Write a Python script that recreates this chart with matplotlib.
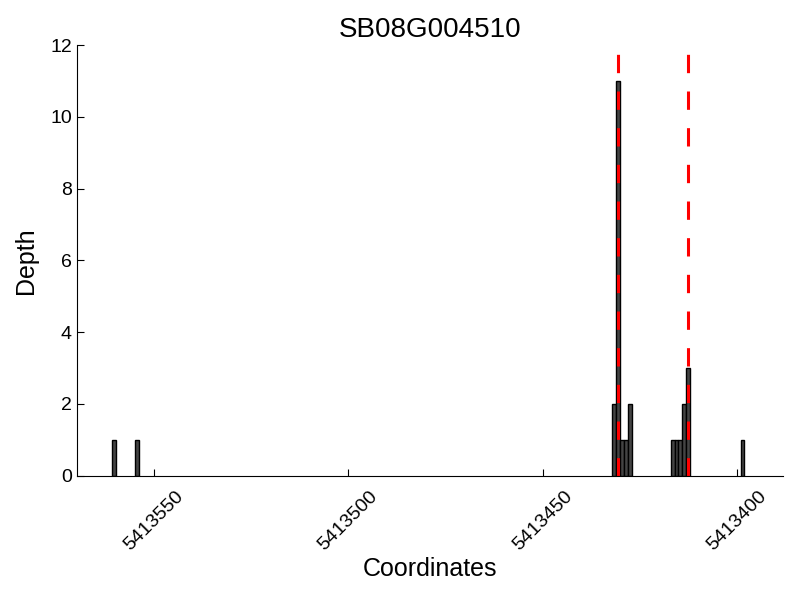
import matplotlib
matplotlib.use("Agg")
import matplotlib.pyplot as plt

plt.rcParams["font.family"] = ["Liberation Sans", "DejaVu Sans"]

gene = "SB08G004510"
# read coverage: left edge of each 1-bp bin and its depth
positions = [5413560, 5413554,
             5413431, 5413430, 5413429, 5413428, 5413427,
             5413416, 5413415, 5413414, 5413413, 5413412,
             5413398]
depths = [1, 1,
          2, 11, 1, 1, 2,
          1, 1, 1, 2, 3,
          1]
# positions marked with red dashed lines
markers = [5413430.5, 5413412.5]
xticks = [5413550, 5413500, 5413450, 5413400]
yticks = [0, 2, 4, 6, 8, 10, 12]

fig = plt.figure(figsize=(8, 6), dpi=100)
ax = fig.add_axes([0.096, 0.207, 0.883, 0.718])

ax.bar(positions, depths, width=1, align="edge",
       color="#444444", edgecolor="black", linewidth=1)
for m in markers:
    ax.axvline(m, color="red", linewidth=2.2, dashes=(6, 6))

ax.set_xlim(max(positions) + 10, min(positions) - 10)
ax.set_ylim(0, 12)
ax.set_xticks(xticks)
ax.set_xticklabels([str(t) for t in xticks], rotation=45, ha="center")
ax.set_yticks(yticks)
ax.tick_params(direction="in", length=5, labelsize=14, top=False, right=False)
ax.tick_params(axis="x", pad=9)
ax.spines["top"].set_visible(False)
ax.spines["right"].set_visible(False)

ax.set_xlabel("Coordinates", fontsize=18, labelpad=2)
ax.set_ylabel("Depth", fontsize=18, labelpad=9)
ax.set_title(gene, fontsize=20)

fig.savefig("out.png", dpi=100)
